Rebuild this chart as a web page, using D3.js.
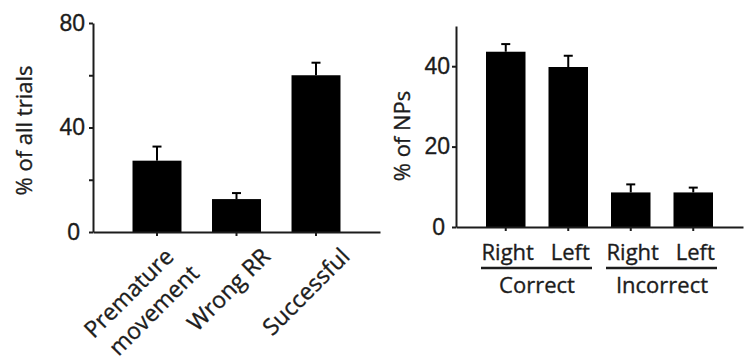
<!DOCTYPE html>
<html>
<head>
<meta charset="utf-8">
<script src="https://d3js.org/d3.v7.min.js"></script>
<style>
body { margin: 0; background: #fff; }
text { font-family: "Open Sans", sans-serif; fill: #1c1c1c; stroke: #1c1c1c; stroke-width: 0.35px; }
.axis path, .axis line { stroke: #1c1c1c; stroke-width: 2; }
.axis .tick text { font-family: "Liberation Sans", Arial, sans-serif; font-size: 23px; fill: #1c1c1c; stroke-width: 0.3px; }
</style>
</head>
<body>
<svg width="747" height="360"></svg>
<script>
// left panel: outcome of all trials
var trialLabels = [["Premature", "movement"], ["Wrong RR"], ["Successful"]];
var trialMeans = [27.3, 12.6, 60.0];
var trialErrors = [5.4, 2.3, 4.8];
var trialTicks = [0, 20, 40, 60, 80];
var trialTickLabels = ["0", "", "40", "", "80"];

// right panel: nose pokes
var npSides = ["Right", "Left", "Right", "Left"];
var npGroups = ["Correct", "Incorrect"];
var npMeans = [43.6, 39.8, 8.6, 8.6];
var npErrors = [1.9, 2.8, 2.0, 1.2];
var npTicks = [0, 20, 40];

var svg = d3.select("svg");

function errorBars(g, x, y, means, errors) {
    var bars = g.append("g").selectAll("g")
        .data(means)
        .enter().append("g");
    bars.append("line")
        .attr("x1", function(d, i) { return x(i) + x.bandwidth() / 2; })
        .attr("x2", function(d, i) { return x(i) + x.bandwidth() / 2; })
        .attr("y1", function(d) { return y(d); })
        .attr("y2", function(d, i) { return y(d + errors[i]); });
    bars.append("line")
        .attr("x1", function(d, i) { return x(i) + x.bandwidth() / 2 - 4.5; })
        .attr("x2", function(d, i) { return x(i) + x.bandwidth() / 2 + 4.5; })
        .attr("y1", function(d, i) { return y(d + errors[i]); })
        .attr("y2", function(d, i) { return y(d + errors[i]); });
    bars.selectAll("line")
        .attr("stroke", "#000")
        .attr("stroke-width", 2);
}

function drawBars(g, x, y, means) {
    g.append("g").selectAll("rect")
        .data(means)
        .enter().append("rect")
        .attr("x", function(d, i) { return x(i); })
        .attr("width", x.bandwidth())
        .attr("y", function(d) { return y(d); })
        .attr("height", function(d) { return y(0) - y(d); })
        .attr("fill", "#000");
}

// ---- left panel ----
var y1 = d3.scaleLinear().domain([0, 80]).range([232, 23]);
var x1 = d3.scaleBand()
    .domain(d3.range(trialMeans.length))
    .range([93, 380])
    .paddingInner(0.384)
    .paddingOuter(0.497);

var left = svg.append("g");
errorBars(left, x1, y1, trialMeans, trialErrors);
drawBars(left, x1, y1, trialMeans);

left.append("g")
    .attr("class", "axis")
    .attr("transform", "translate(0," + y1(0) + ")")
    .call(d3.axisBottom(x1).tickSize(4).tickSizeOuter(0).tickFormat(""));

left.append("g")
    .attr("class", "axis")
    .attr("transform", "translate(" + x1.range()[0] + ",0)")
    .call(d3.axisLeft(y1).tickValues(trialTicks).tickSize(4).tickPadding(4).tickSizeOuter(0)
        .tickFormat(function(d, i) { return trialTickLabels[i]; }))
    .selectAll(".tick text")
    .attr("dx", function(d) { return d === 0 ? -5 : 0; });

left.append("text")
    .attr("transform", "translate(32," + ((y1(0) + y1(80)) / 2 + 3) + ") rotate(-90)")
    .attr("text-anchor", "middle")
    .style("font-size", "22px")
    .text("% of all trials");

// rotated category labels, last line anchored near the tick
var labelGroups = left.append("g").selectAll("g")
    .data(trialLabels)
    .enter().append("g")
    .attr("transform", function(d, i) {
        return "translate(" + (x1(i) + x1.bandwidth() / 2 + 35) + "," + (y1(0) + 26) + ") rotate(-45)";
    });

labelGroups.each(function(lines) {
    var n = lines.length;
    d3.select(this).selectAll("text")
        .data(lines)
        .enter().append("text")
        .attr("text-anchor", "end")
        .attr("x", function(d, k) { return -(n - 1) * 6 - (n - 1 - k) * 6; })
        .attr("y", function(d, k) { return (n - 1) * 18 - (n - 1 - k) * 30; })
        .style("font-size", "23px")
        .text(function(d) { return d; });
});

// ---- right panel ----
var y2 = d3.scaleLinear().domain([0, 50]).range([227, 26]);
var x2 = d3.scaleBand()
    .domain(d3.range(npMeans.length))
    .range([456, 743])
    .paddingInner(0.368)
    .paddingOuter(0.48);

var right = svg.append("g");
errorBars(right, x2, y2, npMeans, npErrors);
drawBars(right, x2, y2, npMeans);

right.append("g")
    .attr("class", "axis")
    .attr("transform", "translate(0," + y2(0) + ")")
    .call(d3.axisBottom(x2).tickSize(4).tickSizeOuter(0).tickFormat(""));

right.append("g")
    .attr("class", "axis")
    .attr("transform", "translate(" + x2.range()[0] + ",0)")
    .call(d3.axisLeft(y2).tickValues(npTicks).tickSize(4).tickPadding(2).tickSizeOuter(0))
    .selectAll(".tick text")
    .attr("dx", function(d) { return d === 0 ? -5 : 0; });

right.append("text")
    .attr("transform", "translate(410,136) rotate(-90)")
    .attr("text-anchor", "middle")
    .style("font-size", "22px")
    .text("% of NPs");

right.append("g").selectAll("text")
    .data(npSides)
    .enter().append("text")
    .attr("x", function(d, i) { return x2(i) + x2.bandwidth() / 2 + 2; })
    .attr("y", y2(0) + 32.5)
    .attr("text-anchor", "middle")
    .style("font-size", "22px")
    .text(function(d) { return d; });

// group underline + name, two sides per group
var grp = right.append("g").selectAll("g")
    .data(npGroups)
    .enter().append("g");

grp.append("line")
    .attr("x1", function(d, i) { return x2(i * 2) - 5; })
    .attr("x2", function(d, i) { return x2(i * 2 + 1) + x2.bandwidth() + 4; })
    .attr("y1", y2(0) + 41)
    .attr("y2", y2(0) + 41)
    .attr("stroke", "#1c1c1c")
    .attr("stroke-width", 2.5);

grp.append("text")
    .attr("x", function(d, i) { return (x2(i * 2) + x2(i * 2 + 1) + x2.bandwidth()) / 2; })
    .attr("y", y2(0) + 66)
    .attr("text-anchor", "middle")
    .style("font-size", "22px")
    .text(function(d) { return d; });
</script>
</body>
</html>
